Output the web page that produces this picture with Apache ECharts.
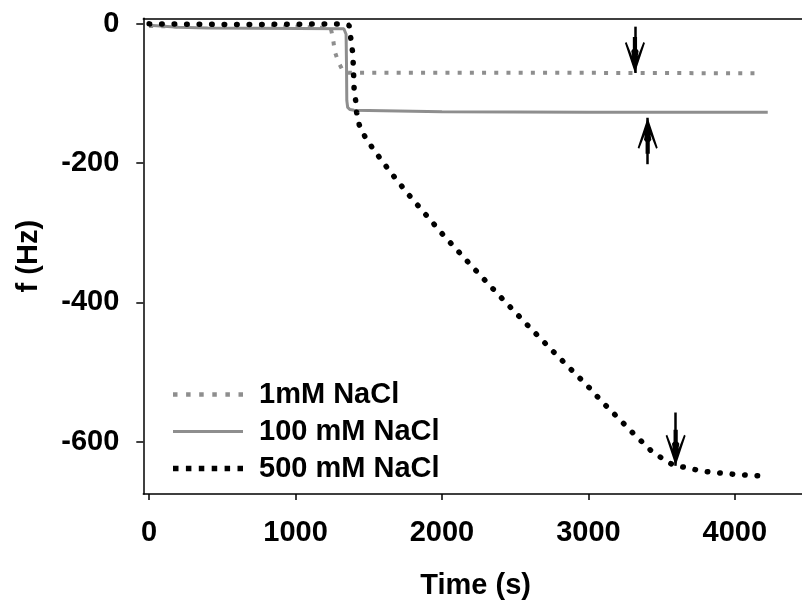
<!DOCTYPE html>
<html>
<head>
<meta charset="utf-8">
<script src="https://cdn.jsdelivr.net/npm/echarts@6/dist/echarts.min.js"></script>
<style>
html,body{margin:0;padding:0;background:#fff;}
#chart{width:802px;height:605px;}
</style>
</head>
<body>
<div id="chart"></div>
<script>
// ---- data (time in s, frequency shift in Hz) ----
const seriesNames = ['1mM NaCl', '100 mM NaCl', '500 mM NaCl'];
const xTicks = [0, 1000, 2000, 3000, 4000];
const yTicks = [0, -200, -400, -600];

const na1 = [[0,-3],[300,-4],[1000,-4],[1240,-6],[1255,-20],[1268,-40],[1293,-55],[1325,-68],[1360,-70],[2500,-70],[4180,-71]];
const na100 = [[0,-2],[200,-5],[400,-6],[1330,-7],[1345,-15],[1348,-60],[1350,-110],[1356,-120],[1372,-123],[1400,-124],[1700,-125],[2000,-126],[3000,-127],[4225,-127]];
const na500 = [[0,0],[600,-1],[1320,0],[1365,-2],[1372,-9],[1379,-25],[1390,-41],[1394,-58],[1397,-76],[1400,-94],[1411,-111],[1417,-127],[1435,-145],[1474,-162],[1531,-180],[1588,-196],[1645,-212],[1702,-227],[1763,-243],[2000,-301],[2200,-347],[2400,-392],[2600,-436],[2800,-479],[3000,-521],[3078,-539],[3147,-554],[3219,-569],[3283,-583],[3356,-598],[3424,-612],[3511,-625],[3584,-634],[3670,-637],[3750,-641],[3841,-644],[3916,-645],[4007,-647],[4084,-648],[4166,-649],[4190,-650]];

// annotation arrows: [time, fromHz, toHz(tip)]
const arrows = [[3318,-4,-70.5],[3405,-201.5,-134.8],[3596,-558,-634.5]];

const ARROW = 'path://M10 0 L19.5 30 L18 31 L12 15 L12 36 L8 36 L8 15 L2 31 L0.5 30 Z M10 0 L13.5 22 L10 27 L6.5 22 Z';

function dotIcon(size, n, span) {
  let p = 'path://';
  const step = (span - size) / (n - 1);
  for (let i = 0; i < n; i++) {
    const x = (i * step).toFixed(2);
    p += 'M' + x + ' 0 h' + size + ' v' + size + ' h-' + size + ' Z ';
  }
  return p;
}
const ICON_GRAY = dotIcon(4.5, 6, 70);
const ICON_SOLID = 'path://M0 0 h70 v3 h-70 Z';
const ICON_BLACK = dotIcon(5.5, 6, 70);

const chart = echarts.init(document.getElementById('chart'), null, {renderer:'canvas'});
const font = 'Liberation Sans';
const XMIN = -40, XMAX = 4459, YMIN = -675, YMAX = 8;
const option = {
  animation: false,
  textStyle: {fontFamily: font, color: '#000', fontWeight: 'bold'},
  grid: {left: 143.3, top: 18.3, right: 0, bottom: 108.3, show: false},
  legend: {
    orient: 'vertical', left: 173, top: 380, padding: 0,
    itemWidth: 70, itemHeight: 14, itemGap: 8,
    data: [
      {name: seriesNames[0], icon: ICON_GRAY, itemStyle: {color: '#8e8e8e'}},
      {name: seriesNames[1], icon: ICON_SOLID, itemStyle: {color: '#8e8e8e'}},
      {name: seriesNames[2], icon: ICON_BLACK, itemStyle: {color: '#000'}}
    ],
    textStyle: {fontFamily: font, fontSize: 29, fontWeight: 'bold', color: '#000', padding: [0,0,0,11]}
  },
  xAxis: [{
    type: 'value', min: XMIN, max: XMAX,
    name: 'Time (s)', nameLocation: 'middle', nameGap: 77,
    nameTextStyle: {fontFamily: font, fontSize: 29, fontWeight: 'bold', color: '#000', padding: [0,0,0,6]},
    axisLine: {show: true, onZero: false, lineStyle: {color: '#000', width: 1.5}},
    axisTick: {show: true, inside: false, length: 6, lineStyle: {color: '#000', width: 1.5}, customValues: xTicks},
    axisLabel: {margin: 24, fontFamily: font, fontSize: 29, fontWeight: 'bold', color: '#000', customValues: xTicks, formatter: v => String(v)},
    splitLine: {show: false}
  }, {
    type: 'value', position: 'top', min: XMIN, max: XMAX,
    axisLine: {show: true, onZero: false, lineStyle: {color: '#000', width: 1.5}},
    axisTick: {show: false}, axisLabel: {show: false}, splitLine: {show: false}
  }],
  yAxis: {
    type: 'value', min: YMIN, max: YMAX,
    name: 'f (Hz)', nameLocation: 'middle', nameGap: 100,
    nameTextStyle: {fontFamily: font, fontSize: 29, fontWeight: 'bold', color: '#000'},
    axisLine: {show: true, onZero: false, lineStyle: {color: '#000', width: 1.5}},
    axisTick: {show: true, inside: false, length: 7, lineStyle: {color: '#000', width: 1.5}, customValues: yTicks},
    axisLabel: {margin: 24, fontFamily: font, fontSize: 29, fontWeight: 'bold', color: '#000', customValues: yTicks, formatter: v => String(v)},
    splitLine: {show: false}
  },
  series: [
    {name: seriesNames[0], type: 'line', data: na1, symbol: 'none', showSymbol: false, z: 2,
     itemStyle: {color: '#8e8e8e'},
     lineStyle: {color: '#8e8e8e', width: 4, type: [4, 8.2], cap: 'butt'}},
    {name: seriesNames[1], type: 'line', data: na100, symbol: 'none', showSymbol: false, z: 3,
     itemStyle: {color: '#8e8e8e'},
     lineStyle: {color: '#8e8e8e', width: 3}},
    {name: seriesNames[2], type: 'line', data: na500, symbol: 'none', showSymbol: false, z: 4,
     itemStyle: {color: '#000'},
     lineStyle: {color: '#000', width: 5.5, type: [0.5, 12], cap: 'round'}},
    {name: 'arrows', type: 'line', data: [], symbol: 'none', z: 5,
     markLine: {
       silent: true, animation: false,
       label: {show: false},
       lineStyle: {color: '#000', width: 2.5, type: 'solid'},
       emphasis: {disabled: true},
       data: arrows.map(a => [
         {coord: [a[0], a[1]], symbol: 'none'},
         {coord: [a[0], a[2]], symbol: ARROW, symbolSize: [20, 36], symbolOffset: [0, 18]}
       ])
     }}
  ]
};
chart.setOption(option);
</script>
</body>
</html>
